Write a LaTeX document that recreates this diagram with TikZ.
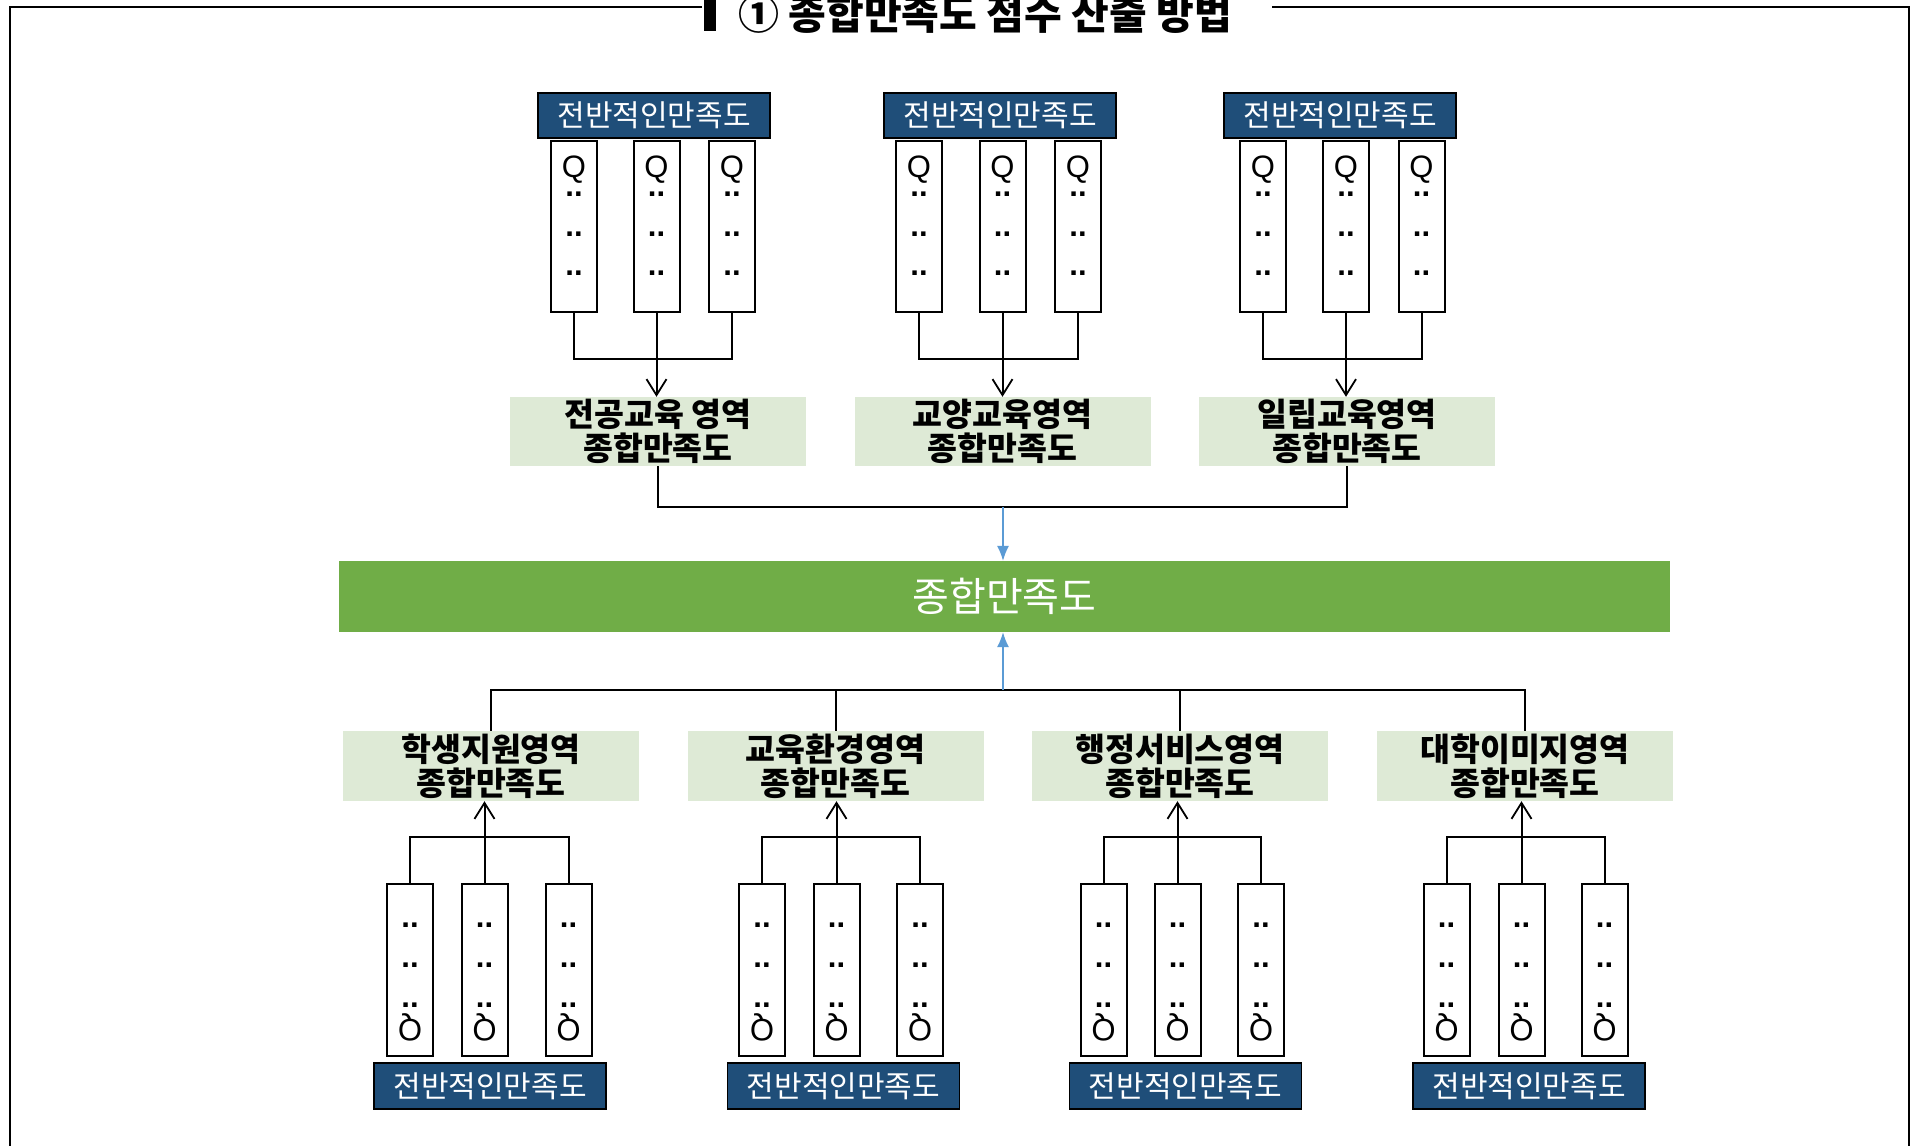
\documentclass[tikz,border=0pt]{standalone}
\usepackage{fontspec}
\setmainfont{Noto Sans CJK KR}
\newfontfamily\arialfont{Liberation Sans}
\usetikzlibrary{arrows.meta}
\definecolor{navy}{HTML}{1F4E79}
\definecolor{lightgreen}{HTML}{DEEAD6}
\definecolor{bargreen}{HTML}{70AD47}
\definecolor{arrowblue}{HTML}{5B9BD5}
\tikzset{
  bluebox/.style={fill=navy, draw=black, line width=1.5pt, text=white, minimum width=232pt, minimum height=45pt, inner sep=0pt, font=\fontsize{30}{32}\selectfont},
  colbox/.style={fill=white, draw=black, line width=2pt, minimum width=46pt, minimum height=171pt, inner sep=0pt},
  greenbox/.style={fill=lightgreen, draw=none, minimum width=296pt, minimum height=69pt, inner sep=0pt, align=center, font=\fontsize{32.5}{34}\selectfont\bfseries},
  qtext/.style={anchor=base, inner sep=0pt, font=\arialfont\fontsize{31}{32}\selectfont},
  dots/.style={anchor=base, inner sep=0pt, font=\arialfont\bfseries\fontsize{31}{32}\selectfont},
  conn/.style={draw=black, line width=2pt},
  openarrow/.style={conn, -{Straight Barb[length=16pt,width=20pt,line width=1.8pt]}},
  bluearrow/.style={draw=arrowblue, line width=1.3pt, -{Latex[length=15pt,width=12pt]}},
  framel/.style={draw=black, line width=2pt},
}
\begin{document}
\begin{tikzpicture}[x=1pt,y=-1pt]
\useasboundingbox (0,0) rectangle (1916,1146);
% frame and title
\draw[framel] (702,7) -- (10,7) -- (10,1146);
\draw[framel] (1272,7) -- (1909,7) -- (1909,1146);
\fill[black] (704,0) rectangle (716,31);
\node[inner sep=0pt, font=\fontsize{41}{44}\selectfont\bfseries] (title) at (985,14) {① 종합만족도 점수 산출 방법};
% central bar
\node[fill=bargreen, minimum width=1331pt, minimum height=71pt, inner sep=0pt, text=white, font=\fontsize{40}{42}\selectfont] (bar) at (1004.5,596.5) {종합만족도};
% top groups
\foreach \g/\bx/\ca/\cb/\cc/\gx/\lab in {
  1/654/574/656.5/732/658/{전공교육 영역},
  2/1000/919/1002.5/1078/1002.5/{교양교육영역},
  3/1340/1263/1346/1421.5/1347/{일립교육영역}} {
  \node[bluebox] (tb\g) at (\bx,115.5) {전반적인만족도};
  \foreach \k/\cx in {1/\ca,2/\cb,3/\cc} {
    \node[colbox] (tc\g\k) at (\cx,226.5) {};
    \node[qtext] (tq\g\k) at (\cx,177) {Q};
    \node[dots] (td\g\k a) at (\cx,196) {..};
    \node[dots] (td\g\k b) at (\cx,236) {..};
    \node[dots] (td\g\k c) at (\cx,275) {..};
  }
  \node[greenbox] (tg\g) at (\gx,431.5) {\lab\\종합만족도};
  \draw[conn] (tc\g1.south) -- ++(0,46) -| (tc\g3.south);
  \draw[openarrow] (tc\g2.south) -- (tc\g2.south |- tg\g.north);
}
% top junction
\draw[conn] (tg1.south) -- ++(0,41) -| (tg3.south);
\coordinate (tj) at (1003,507);
\draw[bluearrow] (tj) -- (tj |- bar.north);
% bottom groups
\foreach \g/\bx/\ca/\cb/\cc/\gx/\lab in {
  1/490/410/484.5/568.5/491/{학생지원영역},
  2/843.5/762/836.5/920/835.5/{교육환경영역},
  3/1185.5/1103.5/1177.5/1261/1180/{행정서비스영역},
  4/1529/1446.5/1521.5/1604.5/1525/{대학이미지영역}} {
  \node[greenbox, minimum height=70pt] (bg\g) at (\gx,766) {\lab\\종합만족도};
  \foreach \k/\cx in {1/\ca,2/\cb,3/\cc} {
    \node[colbox, minimum height=172pt] (bc\g\k) at (\cx,970) {};
    \node[dots] (bd\g\k a) at (\cx,927) {..};
    \node[dots] (bd\g\k b) at (\cx,967) {..};
    \node[dots] (bd\g\k c) at (\cx,1007) {..};
    \node[qtext, rotate=180] (bq\g\k) at (\cx,1019) {Q};
  }
  \node[bluebox, minimum height=46pt] (bb\g) at (\bx,1086) {전반적인만족도};
  \draw[conn] (bc\g1.north) -- ++(0,-46) -| (bc\g3.north);
  \draw[openarrow] (bc\g2.north) -- (bc\g2.north |- bg\g.south);
}
% bottom junction
\draw[conn] (bg1.north) -- ++(0,-41) -| (bg4.north);
\draw[conn] (bg2.north) -- ++(0,-41);
\draw[conn] (bg3.north) -- ++(0,-41);
\coordinate (bj) at (1003,690);
\draw[bluearrow] (bj) -- (bj |- bar.south);
\end{tikzpicture}
\end{document}
